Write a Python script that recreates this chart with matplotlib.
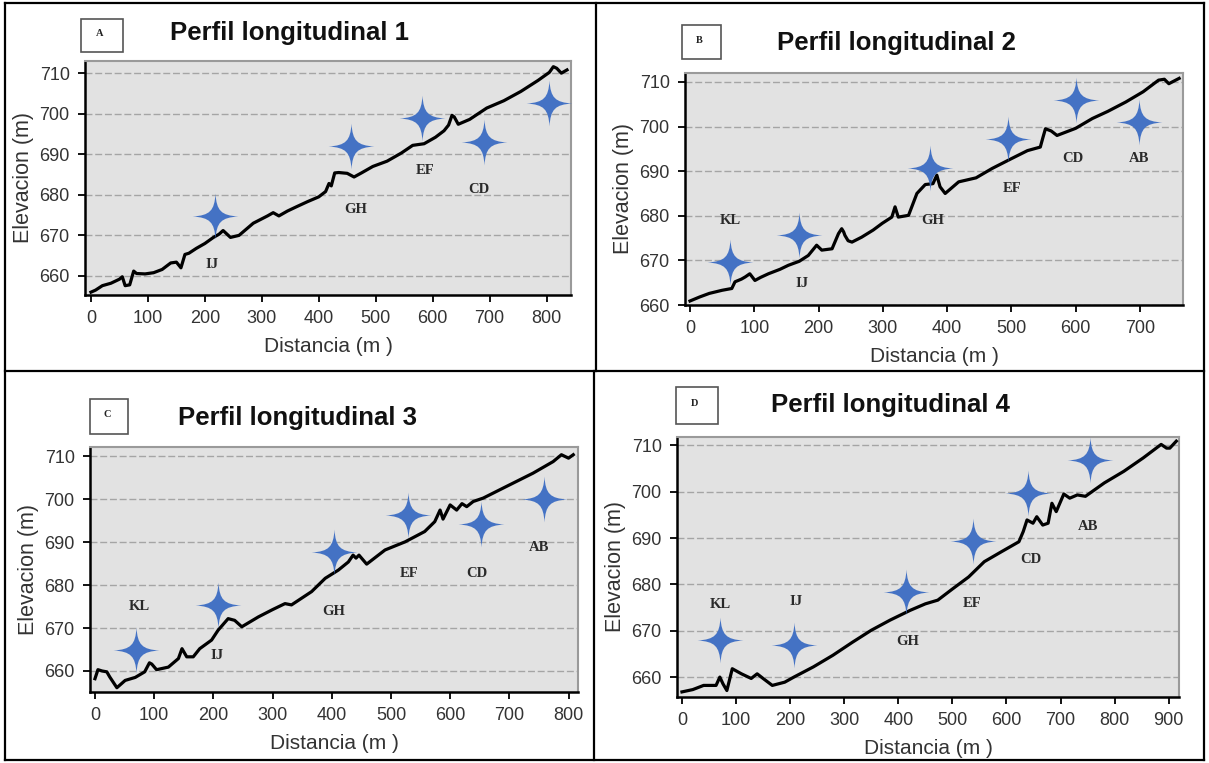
import matplotlib
matplotlib.use("Agg")
import matplotlib.pyplot as plt
from matplotlib.path import Path
from matplotlib.patches import Rectangle
from matplotlib.lines import Line2D

# ---------------- data ----------------
A_dist = [0, 8, 20, 35, 50, 55, 60, 68, 75, 80, 95, 110, 125, 140, 150, 158, 165, 172, 185, 200,
          215, 225, 232, 245, 260, 285, 310, 320, 330, 345, 360, 380, 400, 412, 418, 422, 428, 435, 450, 462,
          475, 495, 520, 545, 565, 585, 605, 620, 628, 634, 638, 645, 665, 695, 725, 755, 785, 805, 812, 818,
          826, 836]
A_elev = [656.0, 656.5, 657.6, 658.2, 659.2, 659.8, 657.6, 657.8, 661.2, 660.6, 660.5, 660.8, 661.6, 663.2, 663.4, 662.0, 665.3, 665.6, 666.8, 668.0,
          669.5, 670.3, 671.2, 669.5, 670.0, 673.0, 674.8, 675.6, 674.8, 676.0, 677.0, 678.3, 679.5, 680.8, 682.8, 682.2, 685.4, 685.5, 685.3, 684.4,
          685.4, 687.0, 688.3, 690.3, 692.2, 692.6, 694.2, 695.8, 697.2, 699.6, 699.2, 697.4, 698.6, 701.4, 703.2, 705.5, 708.2, 710.2, 711.6, 711.2,
          710.0, 710.8]
A_star_x = [218, 456, 581, 690, 804]
A_star_y = [674.9, 692.1, 698.9, 693.0, 702.6]
A_labels = ["IJ", "GH", "EF", "CD"]
A_lab_x = [212, 464, 587, 682]
A_lab_y = [662.7, 676.3, 686.1, 681.4]

B_dist = [0, 15, 30, 50, 65, 70, 80, 86, 93, 101, 110, 122, 140, 153, 170, 184, 197, 205, 221, 231,
          236, 239, 241, 246, 252, 267, 285, 299, 314, 319, 324, 340, 353, 366, 378, 384, 389, 397, 418, 445,
          470, 500, 525, 545, 549, 553, 562, 571, 600, 626, 650, 678, 705, 729, 738, 745, 761]
B_elev = [660.9, 661.8, 662.6, 663.3, 663.7, 665.2, 665.8, 666.3, 667.0, 665.5, 666.2, 667.0, 668.0, 668.9, 669.8, 671.1, 673.4, 672.3, 672.6, 676.0,
          677.1, 676.4, 675.6, 674.4, 674.1, 675.2, 676.8, 678.3, 679.7, 682.0, 679.7, 680.1, 685.0, 687.0, 687.2, 689.1, 686.5, 685.0, 687.6, 688.5,
          690.6, 692.8, 694.6, 695.4, 697.5, 699.5, 699.0, 698.0, 699.6, 701.8, 703.4, 705.5, 707.8, 710.4, 710.6, 709.6, 710.8]
B_star_x = [62, 170, 374, 495, 600, 698]
B_star_y = [669.6, 675.6, 690.6, 697.3, 705.9, 701.0]
B_labels = ["KL", "IJ", "GH", "EF", "CD", "AB"]
B_lab_x = [62, 174, 378, 501, 595, 698]
B_lab_y = [679.0, 664.9, 679.0, 686.1, 692.8, 692.8]

C_dist = [0, 5, 12, 20, 25, 37, 51, 68, 84, 92, 96, 104, 124, 141, 147, 155, 166, 177, 197, 208,
          225, 236, 248, 276, 300, 321, 332, 366, 389, 411, 428, 436, 441, 446, 459, 490, 524, 557, 574, 583,
          588, 600, 611, 620, 628, 639, 656, 695, 740, 774, 788, 800, 808]
C_elev = [658.2, 660.3, 660.0, 659.8, 658.6, 656.1, 657.8, 658.5, 659.8, 661.9, 661.6, 660.3, 660.9, 662.9, 665.2, 663.3, 663.3, 665.2, 667.2, 669.5,
          672.2, 671.8, 670.3, 672.6, 674.3, 675.7, 675.4, 678.5, 681.6, 683.5, 685.4, 687.0, 686.3, 687.0, 684.9, 688.2, 690.1, 692.5, 694.8, 697.5,
          695.4, 698.7, 697.5, 699.0, 698.3, 699.5, 700.3, 703.0, 706.1, 708.8, 710.4, 709.6, 710.4]
C_star_x = [70, 207, 403, 528, 652, 758]
C_star_y = [665.0, 675.4, 687.7, 696.4, 694.3, 700.0]
C_labels = ["KL", "IJ", "GH", "EF", "CD", "AB"]
C_lab_x = [75, 206, 403, 531, 645, 750]
C_lab_y = [675.0, 663.7, 673.8, 682.8, 682.8, 688.8]

D_dist = [0, 20, 40, 63, 70, 76, 83, 93, 110, 128, 139, 150, 167, 190, 207, 243, 279, 315, 350, 385,
          422, 450, 473, 500, 530, 559, 590, 623, 631, 638, 649, 656, 667, 677, 684, 692, 706, 717, 731, 746,
          781, 817, 853, 886, 896, 902, 914]
D_elev = [656.8, 657.3, 658.2, 658.2, 660.0, 658.5, 657.1, 661.8, 660.7, 659.7, 660.7, 659.7, 658.2, 658.9, 660.0, 662.2, 664.7, 667.5, 670.1, 672.3,
          674.4, 675.8, 676.6, 679.0, 681.6, 684.9, 687.0, 689.2, 691.4, 693.9, 693.2, 694.6, 692.8, 693.2, 697.5, 695.7, 699.5, 698.6, 699.3, 699.0,
          701.9, 704.4, 707.3, 710.2, 709.4, 709.4, 710.9]
D_star_x = [71, 208, 415, 538, 640, 754]
D_star_y = [668.1, 666.9, 678.4, 689.4, 699.7, 706.9]
D_labels = ["KL", "IJ", "GH", "EF", "CD", "AB"]
D_lab_x = [70, 210, 418, 537, 645, 751]
D_lab_y = [675.7, 676.2, 667.6, 675.9, 685.3, 692.5]

titles = ["Perfil longitudinal 1", "Perfil longitudinal 2", "Perfil longitudinal 3", "Perfil longitudinal 4"]
letters = ["A", "B", "C", "D"]
y_ticks = [660, 670, 680, 690, 700, 710]
x_ticks = [[0, 100, 200, 300, 400, 500, 600, 700, 800],
           [0, 100, 200, 300, 400, 500, 600, 700],
           [0, 100, 200, 300, 400, 500, 600, 700, 800],
           [0, 100, 200, 300, 400, 500, 600, 700, 800, 900]]

# ---------------- layout ----------------
W, H = 1209, 763
fig = plt.figure(figsize=(W / 100, H / 100), dpi=100)
fig.patch.set_facecolor("white")
plt.rcParams["font.family"] = ["Liberation Sans", "DejaVu Sans"]

def fx(px):
    return px / W

def fy(py):
    return 1 - py / H

# axes boxes in pixels: left, right, top, bottom
boxes = [(85, 571, 61, 295), (685, 1183, 73, 305), (90, 578, 447, 692), (677, 1179, 437, 697)]
xlims = [(-10.5, 843), (-7.8, 767), (-8.4, 816), (-9.2, 919)]
ylims = [(655.3, 713.0), (660.0, 712.0), (655.1, 712.2), (655.7, 711.8)]
title_pos = [(290, 33), (896, 43), (297, 418), (890, 405)]
letter_box = [(81, 19, 42, 33), (682, 25, 39, 34), (90, 399, 38, 35), (676, 387, 42, 37)]

# star marker path (4-pointed, concave sides)
c1, c2 = 0.25, 0.045
verts = [(1, 0), (c1, c2), (c2, c1), (0, 1),
         (-c2, c1), (-c1, c2), (-1, 0),
         (-c1, -c2), (-c2, -c1), (0, -1),
         (c2, -c1), (c1, -c2), (1, 0), (0, 0)]
codes = [Path.MOVETO] + [Path.CURVE4] * 12 + [Path.CLOSEPOLY]
star = Path(verts, codes)

series = [
    (A_dist, A_elev, A_star_x, A_star_y, A_labels, A_lab_x, A_lab_y),
    (B_dist, B_elev, B_star_x, B_star_y, B_labels, B_lab_x, B_lab_y),
    (C_dist, C_elev, C_star_x, C_star_y, C_labels, C_lab_x, C_lab_y),
    (D_dist, D_elev, D_star_x, D_star_y, D_labels, D_lab_x, D_lab_y),
]

for i, (dist, elev, sx, sy, labs, lx, ly) in enumerate(series):
    l, r, t, b = boxes[i]
    ax = fig.add_axes([fx(l), fy(b), (r - l) / W, (b - t) / H])
    ax.set_facecolor("#e2e2e2")
    ax.plot(dist, elev, color="black", lw=2.3, solid_joinstyle="round", zorder=3)
    ax.plot(sx, sy, linestyle="none", marker=star, markersize=33, color="#4472C4",
            markeredgewidth=0, zorder=4)
    for name, x, y in zip(labs, lx, ly):
        ax.text(x, y, name, ha="center", va="center", fontsize=10.5, fontweight="bold",
                family=["Liberation Serif", "DejaVu Serif"], color="#2a2a2a", zorder=5)
    ax.set_xlim(*xlims[i])
    ax.set_ylim(*ylims[i])
    ax.set_xticks(x_ticks[i])
    ax.set_yticks(y_ticks)
    ax.yaxis.grid(True, color="#a5a5a5", lw=1.0, linestyle=(0, (5, 2)))
    ax.set_axisbelow(True)
    for side in ["left", "bottom"]:
        ax.spines[side].set_color("black")
        ax.spines[side].set_linewidth(1.8)
    for side in ["top", "right"]:
        ax.spines[side].set_color("#9a9a9a")
        ax.spines[side].set_linewidth(1.5)
    ax.tick_params(direction="out", length=5, width=1.3, color="black",
                   labelsize=13, labelcolor="#333333", pad=6)
    ax.set_xlabel("Distancia (m )", fontsize=15, color="#333333", labelpad=7)
    ax.set_ylabel("Elevacion (m)", fontsize=15.5, color="#333333", labelpad=4)

    tx, ty = title_pos[i]
    fig.text(fx(tx), fy(ty), titles[i], ha="center", va="center", fontsize=18.5,
             fontweight="bold", color="#111111")
    bx, by, bw, bh = letter_box[i]
    fig.patches.append(Rectangle((fx(bx), fy(by + bh)), bw / W, bh / H, transform=fig.transFigure,
                                 facecolor="white", edgecolor="#555555", lw=1.2))
    fig.text(fx(bx + bw * 0.45), fy(by + bh * 0.45), letters[i], ha="center", va="center",
             fontsize=7.5, fontweight="bold", family=["Liberation Serif", "DejaVu Serif"],
             color="#222222")

# panel borders
frame_lines = [
    ((5, 1204), (3, 3)), ((5, 1204), (760, 760)), ((5, 5), (3, 760)), ((1204, 1204), (3, 760)),
    ((5, 1204), (371, 371)), ((596, 596), (3, 371)), ((594, 594), (371, 760)),
]
for (xs, ys) in frame_lines:
    fig.add_artist(Line2D([fx(xs[0]), fx(xs[1])], [fy(ys[0]), fy(ys[1])],
                          transform=fig.transFigure, color="black", lw=1.6))

fig.savefig("out.png", dpi=100)
